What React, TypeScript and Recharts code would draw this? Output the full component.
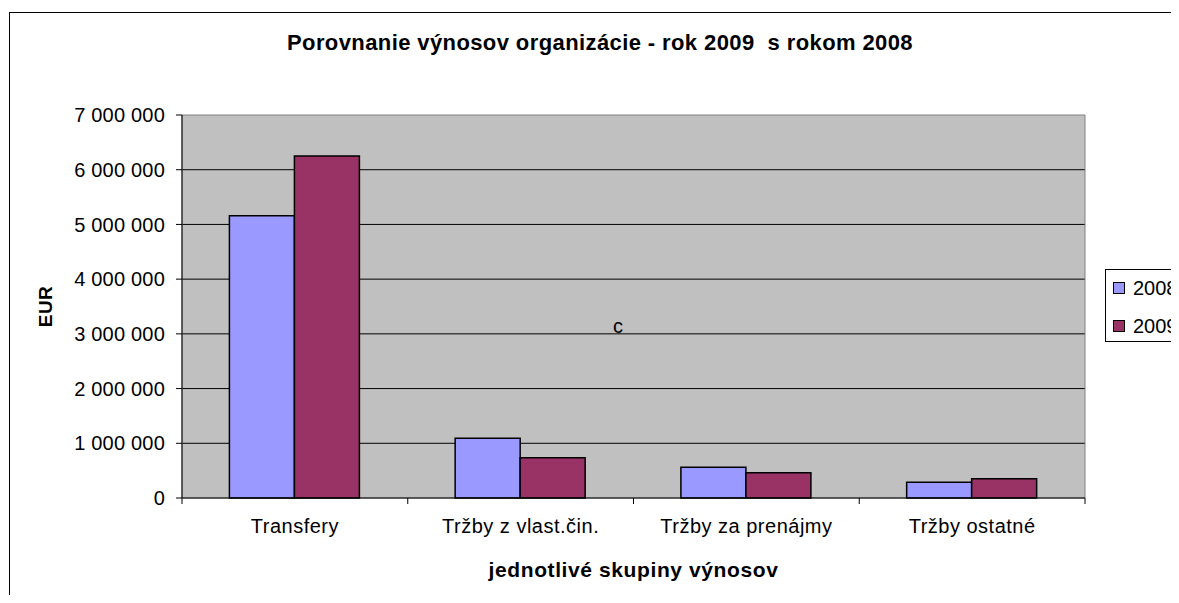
import React from 'react';
import { BarChart, Bar, XAxis, YAxis, CartesianGrid, Legend, ReferenceArea, Label } from 'recharts';

const categories = ['Transfery', 'Tržby z vlast.čin.', 'Tržby za prenájmy', 'Tržby ostatné'];
const values2008 = [5160000, 1090000, 560000, 287000];
const values2009 = [6250000, 737000, 462000, 353000];
const yTicks = [0, 1000000, 2000000, 3000000, 4000000, 5000000, 6000000, 7000000];
const seriesNames = ['2008', '2009'];
const seriesColors = ['#9999FF', '#993366'];

const data = categories.map((c, i) => ({ name: c, y2008: values2008[i], y2009: values2009[i] }));

const FONT = '"Liberation Sans", Arial, sans-serif';

const fmt = (v: number) => String(v).replace(/\B(?=(\d{3})+(?!\d))/g, ' ');

const XTick = (props: any) => {
  const { x, y, payload, index, visibleTicksCount } = props;
  const half = payload && payload.offset ? payload.offset : 0;
  const axisY = y - 21;
  return (
    <g>
      <line x1={x - half} y1={axisY} x2={x - half} y2={axisY + 6} stroke="#000" />
      {index === visibleTicksCount - 1 ? (
        <line x1={x + half} y1={axisY} x2={x + half} y2={axisY + 6} stroke="#000" />
      ) : null}
      <text x={x} y={y} dy="0.71em" textAnchor="middle" fontSize={20} letterSpacing={0.5} fontFamily={FONT} fill="#000">
        {payload.value}
      </text>
    </g>
  );
};

const LegendBox = () => (
  <div
    style={{
      border: '1px solid #000',
      background: '#fff',
      width: 90,
      height: 73,
      boxSizing: 'border-box',
      fontFamily: FONT,
      fontSize: 20,
      color: '#000',
      paddingLeft: 7,
      paddingTop: 8,
      textAlign: 'left',
    }}
  >
    {seriesNames.map((n, i) => (
      <div key={n} style={{ display: 'flex', alignItems: 'center', height: 20, marginBottom: i === 0 ? 18 : 0 }}>
        <span
          style={{
            display: 'inline-block',
            width: 10,
            height: 10,
            background: seriesColors[i],
            border: '1px solid #000',
            marginRight: 8,
          }}
        />
        <span>{n}</span>
      </div>
    ))}
  </div>
);

export default function App() {
  return (
    <div style={{ position: 'relative', width: 1171, height: 595, overflow: 'hidden', marginBottom: -8, background: '#fff' }}>
      <div
        style={{
          position: 'absolute',
          left: 1,
          top: 4,
          width: 2000,
          height: 2000,
          border: '1px solid #000',
        }}
      />
      <div
        style={{
          position: 'absolute',
          left: 0,
          width: 1184,
          top: 22,
          textAlign: 'center',
          fontFamily: FONT,
          fontWeight: 'bold',
          fontSize: 22,
          letterSpacing: 0.4,
          color: '#000',
          whiteSpace: 'pre',
        }}
      >
        {'Porovnanie výnosov organizácie - rok 2009  s rokom 2008'}
      </div>
      <div
        style={{
          position: 'absolute',
          left: 0,
          top: 0,
        }}
      >
        <BarChart
          width={1171}
          height={595}
          data={data}
          margin={{ top: 107, right: 4, bottom: 65, left: 74 }}
          barCategoryGap="21%"
          barGap={0}
        >
          <CartesianGrid
            fill="#C0C0C0"
            stroke="#000"
            vertical={false}
            horizontalValues={[1000000, 2000000, 3000000, 4000000, 5000000, 6000000]}
          />
          <ReferenceArea y1={0} y2={7000000} fill="none" stroke="#808080" strokeWidth={1} ifOverflow="visible" />
          <XAxis
            dataKey="name"
            axisLine={{ stroke: '#000' }}
            tickLine={false}
            tickSize={0}
            tickMargin={21}
            height={40}
            tick={<XTick />}
            interval={0}
          >
            <Label
              value="jednotlivé skupiny výnosov"
              position="insideBottom"
              offset={-39}
              style={{ fontFamily: FONT, fontWeight: 'bold', fontSize: 21, letterSpacing: 0.6, fill: '#000' }}
            />
          </XAxis>
          <YAxis
            domain={[0, 7000000]}
            ticks={yTicks}
            width={100}
            tickFormatter={fmt}
            axisLine={{ stroke: '#000' }}
            tickLine={{ stroke: '#000' }}
            tickSize={6}
            tickMargin={11}
            tick={{ fontFamily: FONT, fontSize: 20, letterSpacing: 0.2, fill: '#000' }}
            interval={0}
          >
            <Label
              value="EUR"
              angle={-90}
              position="insideLeft"
              offset={-37}
              style={{ fontFamily: FONT, fontWeight: 'bold', fontSize: 19, letterSpacing: 0.4, fill: '#000', textAnchor: 'middle' }}
            />
          </YAxis>
          <Legend
            layout="horizontal"
            verticalAlign="middle"
            align="right"
            content={<LegendBox />}
            wrapperStyle={{ position: 'absolute', left: 1097, top: 261, width: 90, height: 73 }}
          />
          <Bar dataKey="y2008" name={seriesNames[0]} fill={seriesColors[0]} stroke="#000" strokeWidth={1.5} isAnimationActive={false} />
          <Bar dataKey="y2009" name={seriesNames[1]} fill={seriesColors[1]} stroke="#000" strokeWidth={1.5} isAnimationActive={false} />
        </BarChart>
      </div>
      <div
        style={{
          position: 'absolute',
          left: 605,
          top: 307,
          fontFamily: FONT,
          fontSize: 20,
          color: '#000',
        }}
      >
        c
      </div>
    </div>
  );
}
